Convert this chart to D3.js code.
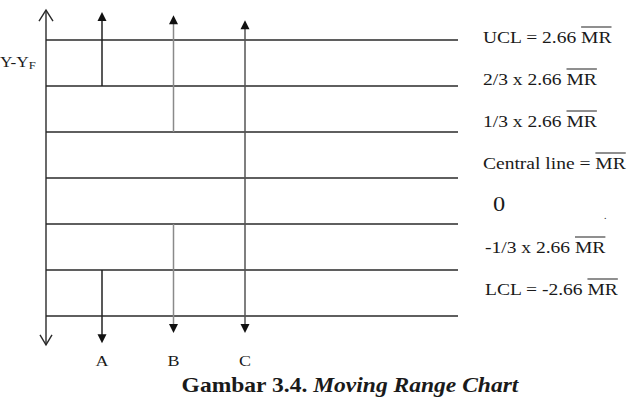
<!DOCTYPE html>
<html>
<head>
<meta charset="utf-8">
<script src="https://cdn.jsdelivr.net/npm/d3@7"></script>
<style>
  body { margin: 0; background: #fff; }
  text { font-family: "Liberation Serif", "Times New Roman", serif; fill: #1a1a1a; }
</style>
</head>
<body>
<svg id="chart" width="631" height="400"></svg>
<script>
// control chart levels, in thirds of 2.66 x MR-bar
const levels = [3, 2, 1, 0, -1, -2, -3]
const levelLabels = ["UCL = 2.66 MR", "2/3 x 2.66 MR", "1/3 x 2.66 MR", "Central line = MR", "0", "-1/3 x 2.66 MR", "LCL = -2.66 MR"]

// the three example points and where their arrows start / end (level units)
const points = ["A", "B", "C"]
const upFrom = [2, 1, 0]
const upTo = [3.61, 3.54, 3.43]
const downFrom = [-2, -1, 0]
const downTo = [-3.59, -3.37, -3.37]

const axisTop = 3.65
const axisBottom = -3.63

const svg = d3.select("#chart")
const stretchX = 1.22

let y = d3.scaleLinear().domain([-3, 3]).range([316, 40])
let labelY = d3.scaleLinear().domain([-3, 3]).range([295, 43])
let x = d3.scalePoint().domain(points).range([102, 245])
let color = d3.scaleOrdinal().domain(points).range(["#222", "#8a8a8a", "#555"])

function stretch(sel, k) {
  sel.each(function() {
    let w = this.getComputedTextLength()
    d3.select(this).attr("textLength", w * k).attr("lengthAdjust", "spacingAndGlyphs")
  })
}

// horizontal level lines
svg.selectAll("line.level").data(levels)
  .enter().append("line")
    .attr("class", "level")
    .attr("x1", 46)
    .attr("x2", 458)
    .attr("y1", d => y(d))
    .attr("y2", d => y(d))
    .attr("stroke", "#2a2a2a")
    .attr("stroke-width", 1.3)

// vertical axis with open arrow heads
svg.append("line")
  .attr("x1", 46).attr("x2", 46)
  .attr("y1", y(axisTop)).attr("y2", y(axisBottom))
  .attr("stroke", "#2a2a2a").attr("stroke-width", 1.4)

svg.append("path")
  .attr("d", `M39,${y(axisTop) + 11} L46,${y(axisTop)} L53,${y(axisTop) + 11}`)
  .attr("fill", "none").attr("stroke", "#2a2a2a").attr("stroke-width", 1.4)
svg.append("path")
  .attr("d", `M40,${y(axisBottom) - 10} L46,${y(axisBottom)} L52,${y(axisBottom) - 10}`)
  .attr("fill", "none").attr("stroke", "#2a2a2a").attr("stroke-width", 1.4)

// arrows for A, B, C
let arrows = []
points.forEach((p, i) => {
  arrows.push({ p: p, from: upFrom[i], to: upTo[i], dir: -1 })
  arrows.push({ p: p, from: downFrom[i], to: downTo[i], dir: 1 })
})

svg.selectAll("line.arrow").data(arrows)
  .enter().append("line")
    .attr("class", "arrow")
    .attr("x1", d => x(d.p))
    .attr("x2", d => x(d.p))
    .attr("y1", d => y(d.from))
    .attr("y2", d => y(d.to) - d.dir * 5)
    .attr("stroke", d => color(d.p))
    .attr("stroke-width", 1.5)

svg.selectAll("path.head").data(arrows)
  .enter().append("path")
    .attr("class", "head")
    .attr("d", d => {
      let cx = x(d.p), ty = y(d.to), by = ty - d.dir * 9
      return `M${cx},${ty} L${cx - 4.5},${by} L${cx + 4.5},${by} Z`
    })
    .attr("fill", "#111")

// point labels under the axis
svg.selectAll("text.pt").data(points)
  .enter().append("text")
    .attr("class", "pt")
    .attr("x", d => x(d))
    .attr("y", 366)
    .attr("text-anchor", "middle")
    .attr("font-size", 15)
    .text(d => d)
    .call(stretch, 1.2)

// y axis label
let yl = svg.append("text")
  .attr("x", 0)
  .attr("y", 67)
  .attr("font-size", 15)
yl.append("tspan").text("Y-Y")
yl.append("tspan").attr("font-size", 11).attr("dy", 2).text("F")
yl.call(stretch, 1.15)

// level labels on the right
let labels = svg.selectAll("text.lab").data(levels)
  .enter().append("text")
    .attr("class", "lab")
    .attr("x", (d, i) => levelLabels[i] == "0" ? 493 : (d < 0 ? 485 : 483))
    .attr("y", d => labelY(d))
    .attr("font-size", (d, i) => levelLabels[i] == "0" ? 20 : 16)
    .text((d, i) => levelLabels[i])
    .call(stretch, stretchX)

// overline the trailing MR
labels.each(function(d, i) {
  let s = levelLabels[i]
  if (!s.endsWith("MR")) return
  let n = s.length
  let x1 = this.getStartPositionOfChar(n - 2).x
  let x2 = this.getEndPositionOfChar(n - 1).x
  svg.append("line")
    .attr("x1", x1).attr("x2", x2)
    .attr("y1", labelY(d) - 16).attr("y2", labelY(d) - 16)
    .attr("stroke", "#333").attr("stroke-width", 1.1)
})

// stray dot next to the 0 label
svg.append("text")
  .attr("x", 604).attr("y", 219)
  .attr("font-size", 10)
  .text(".")

// caption
let title = svg.append("text")
  .attr("x", 350)
  .attr("y", 392)
  .attr("text-anchor", "middle")
  .attr("font-size", 21)
  .attr("font-weight", "bold")
title.append("tspan").text("Gambar 3.4. ")
title.append("tspan").attr("font-style", "italic").text("Moving Range Chart")
title.call(stretch, 1.12)
</script>
</body>
</html>
